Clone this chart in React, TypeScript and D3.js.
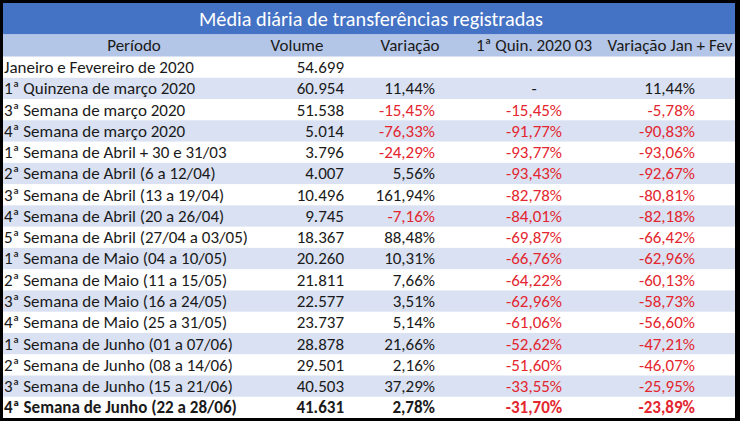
import React from "react";
import * as d3 from "d3";

const title = "Média diária de transferências registradas";
const headers = ["Período", "Volume", "Variação", "1ª Quin. 2020 03", "Variação Jan + Fev"];
const periods = [
  "Janeiro e Fevereiro de 2020",
  "1ª Quinzena de março 2020",
  "3ª Semana de março 2020",
  "4ª Semana de março 2020",
  "1ª Semana de Abril + 30 e 31/03",
  "2ª Semana de Abril (6 a 12/04)",
  "3ª Semana de Abril (13 a 19/04)",
  "4ª Semana de Abril (20 a 26/04)",
  "5ª Semana de Abril (27/04 a 03/05)",
  "1ª Semana de Maio (04 a 10/05)",
  "2ª Semana de Maio (11 a 15/05)",
  "3ª Semana de Maio (16 a 24/05)",
  "4ª Semana de Maio (25 a 31/05)",
  "1ª Semana de Junho (01 a 07/06)",
  "2ª Semana de Junho (08 a 14/06)",
  "3ª Semana de Junho (15 a 21/06)",
  "4ª Semana de Junho (22 a 28/06)",
];
const volumes = [54699, 60954, 51538, 5014, 3796, 4007, 10496, 9745, 18367, 20260, 21811, 22577, 23737, 28878, 29501, 40503, 41631];
const variacao: (number | null)[] = [null, 0.1144, -0.1545, -0.7633, -0.2429, 0.0556, 1.6194, -0.0716, 0.8848, 0.1031, 0.0766, 0.0351, 0.0514, 0.2166, 0.0216, 0.3729, 0.0278];
const quin: (number | null | "-")[] = [null, "-", -0.1545, -0.9177, -0.9377, -0.9343, -0.8278, -0.8401, -0.6987, -0.6676, -0.6422, -0.6296, -0.6106, -0.5262, -0.5160, -0.3355, -0.3170];
const janFev: (number | null)[] = [null, 0.1144, -0.0578, -0.9083, -0.9306, -0.9267, -0.8081, -0.8218, -0.6642, -0.6296, -0.6013, -0.5873, -0.5660, -0.4721, -0.4607, -0.2595, -0.2389];

const W = 740;
const H = 421;
const locale = d3.formatLocale({ decimal: ",", thousands: ".", grouping: [3], currency: ["R$", ""], minus: "-" });
const fmtInt = locale.format(",d");
const fmtPct = locale.format(".2%");

const FONT = "Carlito, Calibri, Lato, sans-serif";
const BLUE = "#4472C4";
const HEAD = "#B4C6E7";
const BAND = "#D9E1F2";
const RED = "#E3262F";
const DARK = "#1a1a1a";

export default function App() {
  const top = 3, left = 3, right = 735, bottom = 418;
  const titleH = 31.5;
  const headH = 22;
  const rowY = d3.scaleBand<number>()
    .domain(d3.range(periods.length))
    .range([top + titleH + headH, bottom])
    .padding(0);
  const headY = top + titleH;

  const colVolume = 344, colVar = 435, colQuin = 534, colJan = 695;
  const headerX = [134, 297, 410, 534, 670];

  const cell = (v: number | null | "-", x: number, y: number, anchor: string, bold: boolean, key: string) => {
    if (v === null) return null;
    const txt = v === "-" ? "-" : fmtPct(v);
    const neg = typeof v === "number" && v < 0;
    return (
      <text key={key} x={x} y={y} dy="0.35em" textAnchor={anchor} fill={neg ? RED : DARK} fontWeight={bold ? "bold" : "normal"}>{txt}</text>
    );
  };

  return (
    <div style={{ position: "fixed", left: 0, top: 0 }}>
      <svg width={W} height={H} style={{ display: "block" }} fontFamily={FONT} fontSize={17}>
        <rect x={0} y={0} width={W} height={H} fill="#000" />
        <rect x={left} y={top} width={right - left} height={bottom - top} fill="#fff" />
        <rect x={left} y={top} width={right - left} height={titleH} fill={BLUE} />
        <text x={371} y={top + titleH / 2} dy="0.35em" textAnchor="middle" fill="#fff" fontSize={20.3}>{title}</text>
        <rect x={left} y={headY} width={right - left} height={headH} fill={HEAD} />
        {headers.map((h, i) => (
          <text key={h} x={headerX[i]} y={headY + headH / 2} dy="0.35em" textAnchor="middle" fill={DARK}>{h}</text>
        ))}
        {periods.map((p, i) => {
          const y0 = rowY(i)!;
          const yc = y0 + rowY.bandwidth() / 2;
          const bold = i === periods.length - 1;
          return (
            <g key={p}>
              {i % 2 === 1 && <rect x={left} y={y0} width={right - left} height={rowY.bandwidth()} fill={BAND} />}
              <text x={4} y={yc} dy="0.35em" fill={DARK} fontWeight={bold ? "bold" : "normal"}>{p}</text>
              <text x={colVolume} y={yc} dy="0.35em" textAnchor="end" fill={DARK} fontWeight={bold ? "bold" : "normal"}>{fmtInt(volumes[i])}</text>
              {cell(variacao[i], colVar, yc, "end", bold, "v")}
              {cell(quin[i], colQuin, yc, "middle", bold, "q")}
              {cell(janFev[i], colJan, yc, "end", bold, "j")}
            </g>
          );
        })}
      </svg>
    </div>
  );
}
